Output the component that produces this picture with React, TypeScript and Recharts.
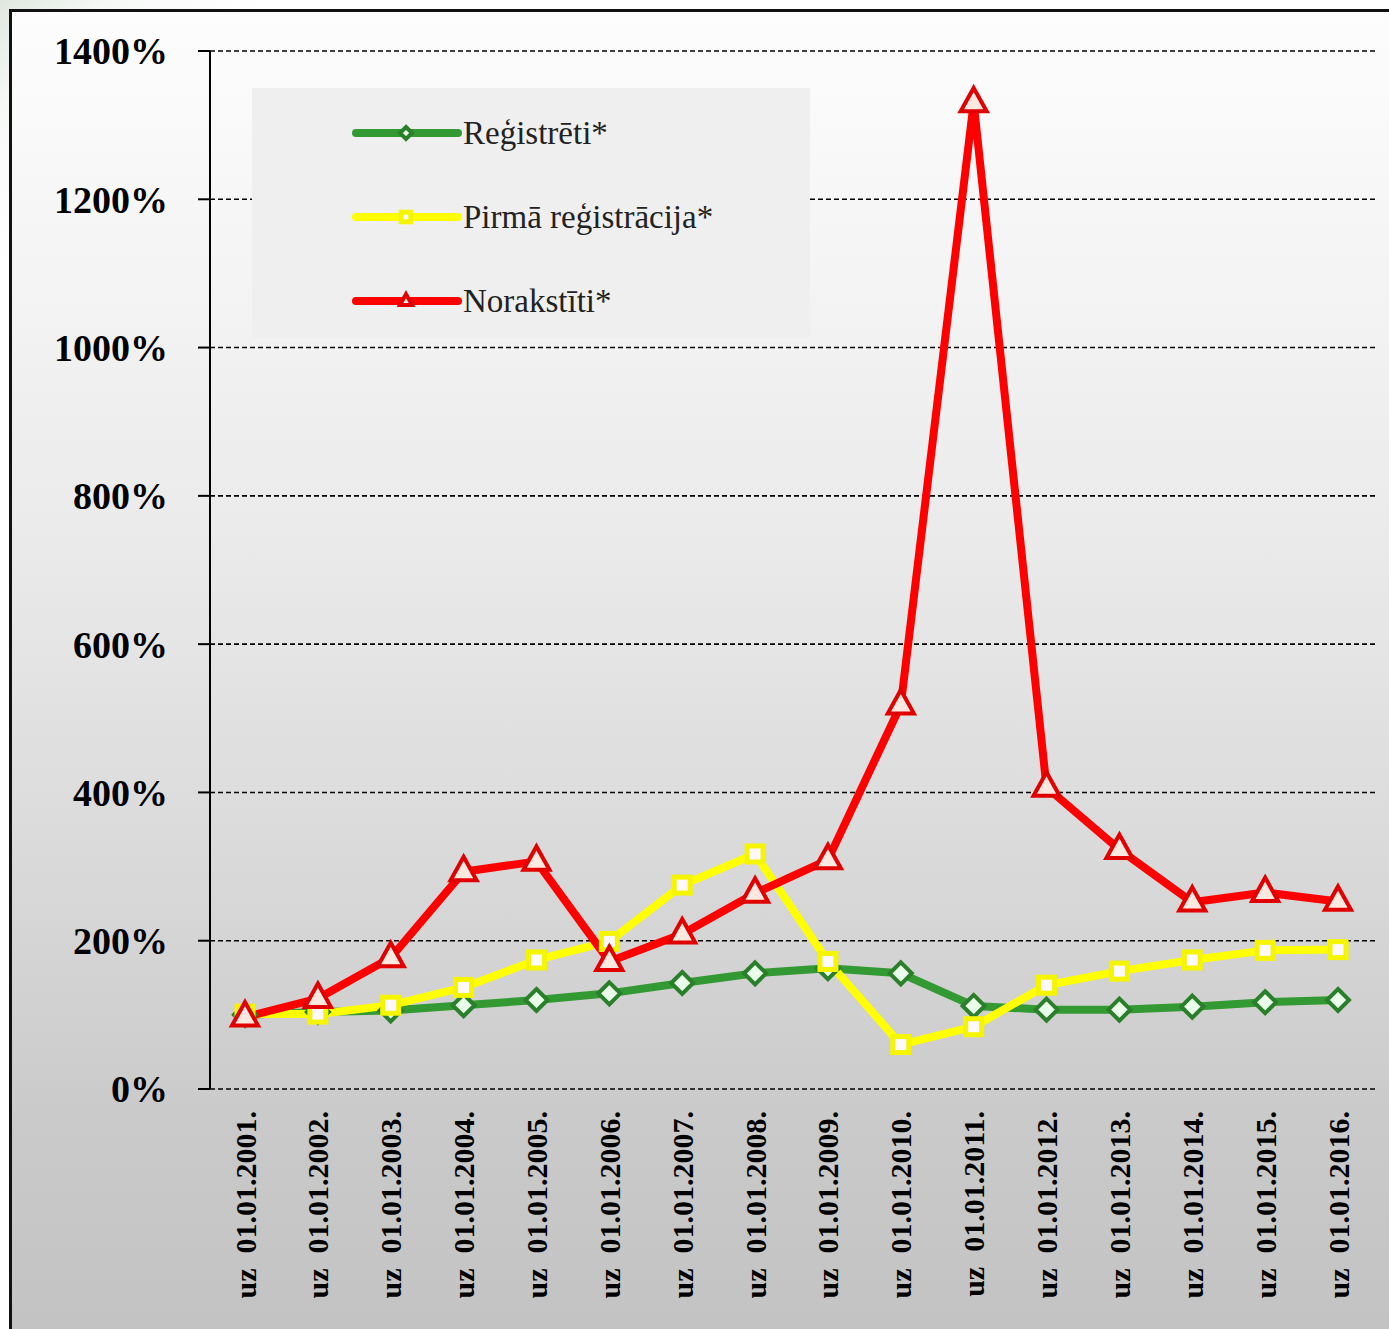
import React from "react";
import {
  LineChart,
  Line,
  CartesianGrid,
  XAxis,
  YAxis,
  Legend,
} from "recharts";

const dates = [
  "uz  01.01.2001.",
  "uz  01.01.2002.",
  "uz  01.01.2003.",
  "uz  01.01.2004.",
  "uz  01.01.2005.",
  "uz  01.01.2006.",
  "uz  01.01.2007.",
  "uz  01.01.2008.",
  "uz  01.01.2009.",
  "uz  01.01.2010.",
  "uz  01.01.2011.",
  "uz  01.01.2012.",
  "uz  01.01.2013.",
  "uz  01.01.2014.",
  "uz  01.01.2015.",
  "uz  01.01.2016.",
];

const registreti = [100, 104, 106, 113, 120, 129, 143, 156, 163, 156, 112, 107, 107, 111, 117, 120];
const pirmaRegistracija = [101, 101, 113, 137, 174, 199, 275, 317, 172, 60, 84, 140, 159, 174, 187, 188];
const norakstiti = [97, 122, 177, 293, 307, 172, 209, 264, 309, 518, 1330, 407, 323, 252, 265, 253];

const yTicks = [0, 200, 400, 600, 800, 1000, 1200, 1400];

const seriesInfo = [
  { key: "reg", name: "Reģistrēti*", color: "#339933", markStroke: "#2a7f2a", markFill: "#eaffea", shape: "diamond" },
  { key: "first", name: "Pirmā reģistrācija*", color: "#ffff00", markStroke: "#f5f500", markFill: "#fff8fc", shape: "square" },
  { key: "off", name: "Norakstīti*", color: "#ff0000", markStroke: "#e00000", markFill: "#ffe8e0", shape: "triangle" },
];

const chartData = dates.map((d, i) => ({
  date: d,
  reg: registreti[i],
  first: pirmaRegistracija[i],
  off: norakstiti[i],
}));

const SERIF = '"Liberation Serif", "Times New Roman", serif';

function Marker(props: any) {
  const { cx, cy, shape, stroke, fill, size } = props;
  if (cx == null || cy == null) return null;
  const s = size;
  if (shape === "diamond") {
    return (
      <polygon
        points={`${cx},${cy - s} ${cx + s},${cy} ${cx},${cy + s} ${cx - s},${cy}`}
        fill={fill}
        stroke={stroke}
        strokeWidth={4}
      />
    );
  }
  if (shape === "square") {
    return (
      <rect
        x={cx - s * 0.8}
        y={cy - s * 0.8}
        width={s * 1.6}
        height={s * 1.6}
        fill={fill}
        stroke={stroke}
        strokeWidth={5}
      />
    );
  }
  return (
    <polygon
      points={`${cx},${cy - s * 1.15} ${cx + s},${cy + s * 0.65} ${cx - s},${cy + s * 0.65}`}
      fill={fill}
      stroke={stroke}
      strokeWidth={4}
      strokeLinejoin="miter"
    />
  );
}

function DateTick(props: any) {
  const { x, y, payload } = props;
  return (
    <text
      x={x}
      y={y}
      transform={`rotate(-90, ${x}, ${y})`}
      textAnchor="end"
      dy="0.35em"
      fill="#000"
      style={{ fontFamily: SERIF, fontWeight: "bold", fontSize: 30, whiteSpace: "pre" }}
    >
      {payload.value}
    </text>
  );
}

function LegendBox() {
  return (
    <div
      style={{
        width: 558,
        height: 250,
        background: "#efefef",
        position: "relative",
      }}
    >
      {seriesInfo.map((s, i) => (
        <div
          key={s.key}
          style={{
            position: "absolute",
            left: 0,
            top: 45 + i * 84 - 22,
            height: 44,
            display: "flex",
            alignItems: "center",
          }}
        >
          <svg width={211} height={44} style={{ display: "block" }}>
            <line x1={104} y1={22} x2={206} y2={22} stroke={s.color} strokeWidth={8} strokeLinecap="round" />
            <Marker cx={154} cy={22} shape={s.shape} stroke={s.markStroke} fill={s.markFill} size={6} />
          </svg>
          <span style={{ fontFamily: SERIF, fontSize: 33, color: "#222", whiteSpace: "nowrap" }}>{s.name}</span>
        </div>
      ))}
    </div>
  );
}

export default function App() {
  return (
    <div
      style={{
        position: "absolute",
        left: 0,
        top: 0,
        width: 1389,
        height: 1329,
        overflow: "hidden",
        background: "linear-gradient(135deg, #dfe8df 0%, #f6f8f6 4%, #ffffff 10%)",
      }}
    >
      <div
        style={{
          position: "absolute",
          left: 9,
          top: 9,
          width: 1400,
          height: 1330,
          border: "3px solid #111",
          boxSizing: "border-box",
          background:
            "linear-gradient(180deg, #fdfdfd 0%, #f4f4f4 20%, #e9e9e9 42%, #d8d8d8 66%, #c9c9c9 85%, #c3c3c3 100%)",
        }}
      />
      <div style={{ position: "absolute", left: 0, top: 0 }}>
        <LineChart
          width={1389}
          height={1329}
          data={chartData}
          margin={{ top: 51, right: 14, left: 0, bottom: 0 }}
        >
          <CartesianGrid
            vertical={false}
            stroke="#000"
            strokeWidth={1.6}
            strokeDasharray="5 3"
          />
          <XAxis
            dataKey="date"
            interval={0}
            axisLine={false}
            tickLine={false}
            height={240}
            padding={{ left: 35, right: 37 }}
            tick={<DateTick />}
            tickMargin={16}
          />
          <YAxis
            type="number"
            domain={[0, 1400]}
            ticks={yTicks}
            width={210}
            tickSize={12}
            tickMargin={30}
            axisLine={{ stroke: "#000", strokeWidth: 2 }}
            tickLine={{ stroke: "#000", strokeWidth: 2 }}
            tickFormatter={(v: number) => `${v}%`}
            tick={{ fill: "#000", fontFamily: SERIF, fontWeight: "bold", fontSize: 38 }}
          />
          <Legend
            layout="vertical"
            align="center"
            verticalAlign="middle"
            content={<LegendBox />}
            wrapperStyle={{ left: 252, top: 88, width: 558, height: 250 }}
          />
          {seriesInfo.map((s) => (
            <Line
              key={s.key}
              type="linear"
              dataKey={s.key}
              name={s.name}
              stroke={s.color}
              strokeWidth={8}
              strokeLinejoin="round"
              isAnimationActive={false}
              dot={(p: any) => (
                <Marker
                  key={`${s.key}-${p.index}`}
                  cx={p.cx}
                  cy={p.cy}
                  shape={s.shape}
                  stroke={s.markStroke}
                  fill={s.markFill}
                  size={s.shape === "triangle" ? 13 : s.shape === "diamond" ? 11 : 10}
                />
              )}
              activeDot={false}
            />
          ))}
        </LineChart>
      </div>
    </div>
  );
}
